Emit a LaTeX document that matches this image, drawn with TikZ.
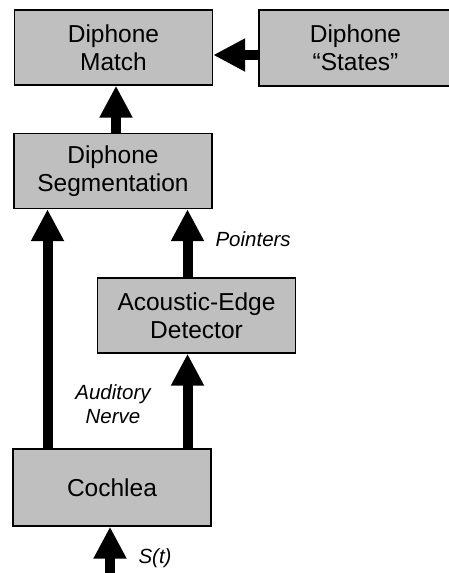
\documentclass[tikz,border=0pt]{standalone}
\usepackage{fontspec}
\setmainfont{Liberation Sans}
\usetikzlibrary{arrows.meta, positioning}

\begin{document}
\begin{tikzpicture}[x=1pt, y=-1pt,
		block/.style={draw=black, line width=1.4pt, fill=black!25, minimum width=198pt, minimum height=75pt, inner sep=0pt, align=center, font=\fontsize{24.5}{28}\selectfont},
		flow/.style={line width=10pt, -{Triangle[width=31pt, length=32pt]}},
		lbl/.style={font=\fontsize{20.5}{24}\selectfont\itshape, align=center}]
				\useasboundingbox (0,0) rectangle (448,573);
				% Processing blocks
				\node[block] (match) at (113.5,47.5) {Diphone\\Match};
				\node[block, minimum width=193pt, minimum height=76pt] (states) at (355.5,48) {Diphone\\“States”};
				\node[block] (seg) at (113,171) {Diphone\\Segmentation};
				\node[block] (edge) at (196.5,315.5) {Acoustic-Edge\\Detector};
				\node[block, minimum height=77pt] (cochlea) at (112,487.5) {Cochlea};
				% Helper coordinates for the arrow lines
				\coordinate (lvl) at (0,55);
				\coordinate (up) at (116,0);
				\coordinate (nerve) at (47.5,0);
				\coordinate (ptr) at (187.5,0);
				\coordinate (sig) at (110,573);
				% Signal flow
				\draw[flow] (states.west |- lvl) -- (match.east |- lvl);
				\draw[flow] (seg.north -| up) -- (match.south -| up);
				\draw[flow] (cochlea.north -| nerve) -- (seg.south -| nerve);
				\draw[flow] (edge.north -| ptr) -- (seg.south -| ptr);
				\draw[flow] (cochlea.north -| ptr) -- (edge.south -| ptr);
				\draw[flow] (sig) -- (cochlea.south -| sig);
				% Labels
				\node[lbl, anchor=west] (ptrlbl) at (212,239) {Pointers};
				\node[lbl] (nervelbl) at (113,404.5) {Auditory\\Nerve};
				\node[lbl, anchor=west] (siglbl) at (135,558) {S(t)};
			\end{tikzpicture}
\end{document}
